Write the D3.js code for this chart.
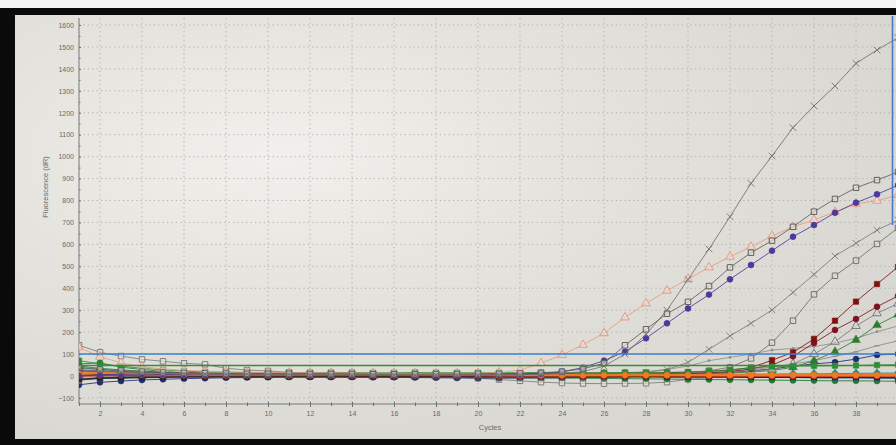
<!DOCTYPE html>
<html><head><meta charset="utf-8">
<script src="https://cdn.jsdelivr.net/npm/d3@7"></script>
<style>body{margin:0;background:#000}svg{display:block}</style>
</head><body><svg id="c" width="896" height="445"></svg>
<script>
// ---- data ----
const cycles = [1,2,3,4,5,6,7,8,9,10,11,12,13,14,15,16,17,18,19,20,21,22,23,24,25,26,27,28,29,30,31,32,33,34,35,36,37,38,39,40];
const xTickValues = [2,4,6,8,10,12,14,16,18,20,22,24,26,28,30,32,34,36,38];
const yTickValues = [-100,0,100,200,300,400,500,600,700,800,900,1000,1100,1200,1300,1400,1500,1600];
const yMinorValues = [-50,50,150,250,350,450,550,650,750,850,950,1050,1150,1250,1350,1450,1550];
const thresholdBlue = 100;
const thresholdGreen = 48;

const wellA = [30,22,18,15,12,10,9,8,8,7, 7,6,6,5,5,5,4,4,4,4, 5,6,8,12,20,45,100,190,300,440, 579,726,878,1003,1132,1231,1322,1425,1486,1542];
const wellB = [40,30,25,20,16,14,12,11,10,10, 10,9,9,9,8,8,8,9,9,10, 10,12,15,20,32,58,140,213,284,338, 410,495,562,617,680,749,807,858,893,930];
const wellC = [0,5,8,8,7,6,5,5,4,4, 4,4,3,3,3,3,3,3,4,4, 5,6,10,20,38,70,111,172,240,308, 371,441,506,571,635,688,744,790,828,870];
const wellT = [130,88,60,42,32,26,22,19,17,16, 15,15,14,14,13,13,12,12,12,13, 16,27,58,96,142,195,267,331,389,442, 495,544,589,638,680,711,748,785,799,825];
const wellD = [15,12,10,8,6,5,4,3,3,2, 2,2,1,1,1,0,0,0,-1,-1, -2,-2,-1,0,2,5,9,16,30,62, 122,182,240,301,381,463,547,605,665,711];
const wellE = [-20,-10,-5,-2,0,2,3,3,3,2, 2,1,1,0,0,-1,-2,-3,-4,-5, -6,-7,-8,-8,-8,-6,-4,0,6,14, 24,40,80,152,252,372,457,526,602,675];
const wellF = [25,20,18,16,15,14,13,12,12,11, 11,11,10,10,10,10,10,10,10,10, 11,11,12,12,13,13,14,14,15,17, 21,27,38,72,108,169,252,339,419,497];
const wellG = [10,8,6,5,4,4,3,3,3,3, 3,3,3,3,3,3,3,3,3,3, 3,4,4,5,5,6,7,8,9,12, 15,20,32,50,90,150,210,260,316,365];
const wellH = [5,4,3,2,2,1,1,1,1,1, 0,0,0,0,0,0,0,0,0,0, 0,0,0,0,1,2,3,4,6,8, 11,15,21,30,55,100,156,228,286,330];
const wellI = [45,35,28,22,18,15,13,11,10,9, 8,8,7,7,7,6,6,6,6,6, 6,6,6,6,6,7,7,8,9,10, 12,14,18,25,40,70,111,164,232,280];
const wellJ = [8,6,5,4,3,3,2,2,2,2, 2,2,2,2,2,2,2,2,2,2, 3,3,4,5,7,10,14,20,30,45, 70,85,100,118,126,134,150,172,202,228];
const wellK = [-5,-3,-2,-1,0,0,0,0,0,0, 0,0,0,0,0,0,0,0,0,0, 0,0,1,1,2,3,4,6,8,11, 15,20,28,40,55,70,90,110,138,160];
const wellM = [-40,-29,-23,-18,-15,-12,-10,-8,-7,-6, -5,-5,-5,-5,-6,-6,-7,-8,-9,-10, -10,-10,-9,-8,-6,-4,-2,0,3,6, 10,16,24,32,45,55,63,77,96,100];
const wellN = [70,55,45,35,28,22,19,17,16,15, 15,15,16,16,15,15,16,15,15,15, 15,15,15,15,15,15,16,16,17,18, 22,28,38,43,45,46,47,48,50,52];
const wellO = [55,60,40,30,20,15,10,8,6,5, 4,3,2,1,0,-1,-2,-3,-4,-5, -6,-7,-8,-9,-10,-11,-12,-13,-14,-15, -16,-17,-18,-19,-20,-21,-22,-22,-23,-24];
const wellP = [10,15,12,9,7,6,5,5,5,5, 5,5,5,5,5,5,5,5,5,5, 4,4,4,4,4,4,4,4,4,4, 4,4,4,4,4,4,4,4,4,4];
const wellQ = [0,3,4,4,3,3,2,2,2,2, 2,2,2,2,2,2,2,2,2,2, 1,1,1,1,1,1,1,1,1,1, 0,0,0,0,0,0,0,0,0,0];
const wellR = [-15,-10,-8,-6,-5,-4,-4,-3,-3,-3, -3,-3,-3,-3,-3,-3,-3,-3,-3,-3, -3,-3,-3,-3,-3,-3,-3,-3,-4,-4, -4,-4,-5,-5,-5,-6,-6,-6,-7,-7];
const wellS = [20,25,15,10,6,4,3,2,2,1, 1,1,0,0,0,0,-1,-1,-2,-2, -3,-4,-5,-5,-5,-5,-4,-3,-2,-1, -2,-3,-4,-5,-6,-7,-8,-8,-9,-10];
const wellU = [140,108,91,76,67,58,53,35,27,23, 17,14,12,10,8,6,3,0,-4,-10, -16,-22,-28,-32,-34,-35,-34,-33,-28,-15, -8,-3,0,2,4,5,6,7,8,9];
const wellV = [35,30,22,16,12,10,9,8,8,8, 8,8,8,8,8,8,8,8,8,8, 8,8,8,8,8,8,8,8,8,8, 8,8,9,9,10,10,11,12,13,14];

// ---- styles (separate from data) ----
const series = [
  {v: wellU, c: '#7c7c7c', m: 'square', h: true},
  {v: wellO, c: '#1f7a34', m: 'circle'},
  {v: wellV, c: '#168a86', m: 'diamond'},
  {v: wellS, c: '#2a6fc4', m: 'circle'},
  {v: wellM, c: '#1f2d78', m: 'circle'},
  {v: wellK, c: '#8a8a8a', m: 'dash'},
  {v: wellJ, c: '#8e8e8e', m: 'dot'},
  {v: wellI, c: '#2e7a2e', m: 'triangle'},
  {v: wellH, c: '#7a7a7a', m: 'triangle', h: true},
  {v: wellG, c: '#7d1322', m: 'circle'},
  {v: wellF, c: '#7e1010', m: 'square'},
  {v: wellE, c: '#6e6e6e', m: 'square', h: true},
  {v: wellD, c: '#7a7a7a', m: 'x'},
  {v: wellN, c: '#2b8c36', m: 'square'},
  {v: wellR, c: '#262626', m: 'square', w: 1.8},
  {v: wellQ, c: '#d1291f', m: 'circle', w: 1.6},
  {v: wellP, c: '#f07a1e', m: 'circle', w: 2.2},
  {v: wellT, c: '#e99a80', m: 'triangle', h: true},
  {v: wellC, c: '#4a3a9c', m: 'circle'},
  {v: wellB, c: '#5e5e5e', m: 'square', h: true},
  {v: wellA, c: '#707070', m: 'x'}
];

// ---- drawing ----
const svg = d3.select('#c');
const W = 896, H = 445;
const defs = svg.append('defs');
const rg = defs.append('radialGradient').attr('id','bg').attr('cx','0.3').attr('cy','0.33').attr('r','0.75');
rg.append('stop').attr('offset','0').attr('stop-color','#f1f0ec');
rg.append('stop').attr('offset','0.45').attr('stop-color','#e4e3de');
rg.append('stop').attr('offset','1').attr('stop-color','#d9d7d1');

svg.append('rect').attr('x',0).attr('y',0).attr('width',W).attr('height',H).attr('fill','#0a0a0a');
svg.append('rect').attr('x',0).attr('y',0).attr('width',W).attr('height',8).attr('fill','#f4f4f4');
svg.append('rect').attr('x',15).attr('y',15).attr('width',W-15).attr('height',424).attr('fill','url(#bg)');

const x = d3.scaleLinear().domain([1,40]).range([79,898]);
const y = d3.scaleLinear().domain([0,1600]).range([376,25]);
const plotTop = 18, plotBottom = 404;

// grid
const grid = svg.append('g').attr('stroke','#a9a9a6').attr('stroke-width',0.9).attr('stroke-dasharray','1.2,3.2');
grid.selectAll('line.h').data(yTickValues).join('line').attr('class','h')
  .attr('x1',79).attr('x2',W).attr('y1',d=>y(d)).attr('y2',d=>y(d));
grid.selectAll('line.v').data(xTickValues).join('line').attr('class','v')
  .attr('y1',plotTop).attr('y2',plotBottom).attr('x1',d=>x(d)).attr('x2',d=>x(d));

// axes
const fontFam = '"Liberation Sans", Arial, sans-serif';
const yAxis = svg.append('g').attr('transform','translate(79,0)')
  .call(d3.axisLeft(y).tickValues(yTickValues).tickSize(3).tickPadding(2).tickFormat(d3.format('d')));
const yMinor = svg.append('g').attr('transform','translate(79,0)')
  .call(d3.axisLeft(y).tickValues(yMinorValues).tickSize(2).tickFormat(''));
const xAxis = svg.append('g').attr('transform','translate(0,'+plotBottom+')')
  .call(d3.axisBottom(x).tickValues(xTickValues).tickSize(3).tickPadding(4).tickFormat(d3.format('d')));
const xMinor = svg.append('g').attr('transform','translate(0,'+plotBottom+')')
  .call(d3.axisBottom(x).tickValues(cycles.filter(c=>c%2===1)).tickSize(2).tickFormat(''));
[yAxis,yMinor,xAxis,xMinor].forEach(g=>{
  g.select('.domain').remove();
  g.selectAll('.tick line').attr('stroke','#6d6d6d');
  g.selectAll('text').attr('fill','#6a6a6a').style('font-family',fontFam).style('font-size','7px');
});
xAxis.selectAll('.tick line').attr('y1',-2);
xMinor.selectAll('.tick line').attr('y1',-1.5);
yAxis.selectAll('.tick line').attr('x2',2);
yMinor.selectAll('.tick line').attr('x2',1.5);
svg.append('line').attr('x1',79).attr('x2',79).attr('y1',plotTop).attr('y2',plotBottom).attr('stroke','#777').attr('stroke-width',1);
svg.append('line').attr('x1',79).attr('x2',W).attr('y1',plotBottom).attr('y2',plotBottom).attr('stroke','#777').attr('stroke-width',1);

svg.append('text').attr('transform','translate(48,187) rotate(-90)').attr('text-anchor','middle')
  .attr('fill','#6a6a6a').style('font-family',fontFam).style('font-size','7.5px').text('Fluorescence (dR)');
svg.append('text').attr('x',490).attr('y',430).attr('text-anchor','middle')
  .attr('fill','#6a6a6a').style('font-family',fontFam).style('font-size','7.5px').text('Cycles');

// series
const clip = defs.append('clipPath').attr('id','pc');
clip.append('rect').attr('x',79).attr('y',plotTop).attr('width',W-79).attr('height',plotBottom-plotTop);
const plot = svg.append('g').attr('clip-path','url(#pc)');
const line = d3.line().x((d,i)=>x(cycles[i])).y(d=>y(d));
const symX = d3.symbolTimes || d3.symbolX || d3.symbolCross;
const symType = {circle:d3.symbolCircle, square:d3.symbolSquare, triangle:d3.symbolTriangle, diamond:d3.symbolDiamond, x:symX};
const symSize = {circle:28, square:30, triangle:32, diamond:26, x:30};

series.forEach(s=>{
  const g = plot.append('g');
  g.append('path').datum(s.v).attr('d',line).attr('fill','none').attr('stroke',s.c).attr('stroke-width',s.w || 0.9).attr('opacity',0.95);
  const pts = g.selectAll('.pt').data(s.v).join('g').attr('class','pt')
    .attr('transform',(d,i)=>'translate('+x(cycles[i])+','+y(d)+')');
  if (s.m === 'dash') {
    pts.append('line').attr('x1',-2.5).attr('x2',2.5).attr('stroke',s.c).attr('stroke-width',1.2);
  } else if (s.m === 'dot') {
    pts.append('circle').attr('r',1.4).attr('fill',s.c);
  } else if (s.m === 'x') {
    pts.append('path').attr('d',d3.symbol().type(symX).size(symSize.x)).attr('fill','none').attr('stroke',s.c).attr('stroke-width',0.9);
  } else {
    pts.append('path').attr('d',d3.symbol().type(symType[s.m]).size(symSize[s.m]))
      .attr('fill', s.h ? '#e6e5e0' : s.c).attr('fill-opacity', s.h ? 0.6 : 1)
      .attr('stroke', s.c).attr('stroke-width', s.h ? 1 : 0.5);
  }
});

// threshold lines
plot.append('line').attr('x1',79).attr('x2',W).attr('y1',y(thresholdGreen)).attr('y2',y(thresholdGreen))
  .attr('stroke','#3f8a3a').attr('stroke-width',1.4);
plot.append('line').attr('x1',79).attr('x2',W).attr('y1',y(thresholdBlue)).attr('y2',y(thresholdBlue))
  .attr('stroke','#3b82cc').attr('stroke-width',1.6);
// cursor at right edge
svg.append('line').attr('x1',892.5).attr('x2',892.5).attr('y1',16).attr('y2',225)
  .attr('stroke','#4a78c8').attr('stroke-width',1.6);
</script></body></html>
